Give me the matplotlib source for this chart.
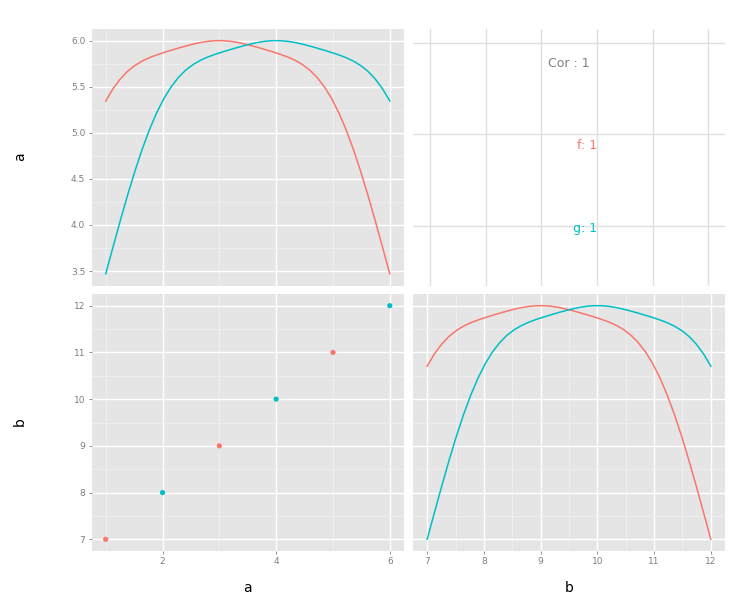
import numpy as np
import matplotlib
matplotlib.use('Agg')
import matplotlib.pyplot as plt
import seaborn as sns
from matplotlib.ticker import MultipleLocator, FormatStrFormatter

# raw data (pairs plot of a vs b, coloured by group)
a_vals = [1, 2, 3, 4, 5, 6]
b_vals = [7, 8, 9, 10, 11, 12]
groups = ['f', 'g', 'f', 'g', 'f', 'g']
group_names = ['f', 'g']
group_colors = {'f': '#F8766D', 'g': '#00BFC4'}

# diagonal density curves are rescaled into these value ranges
a_diag_range = (3.47, 6.0)
b_diag_range = (7.0, 12.0)
b_ticks = [7, 8, 9, 10, 11, 12]

# correlation panel text
cor_text = 'Cor : 1'
group_cor = {'f': 'f: 1', 'g': 'g: 1'}

bw_factor = 0.539  # R bw.nrd0 relative to the sd for these groups

W, H = 754, 606
fig = plt.figure(figsize=(W / 100, H / 100), dpi=100)


def px_axes(l, t, r, b):
    return fig.add_axes([l / W, 1 - b / H, (r - l) / W, (b - t) / H])


ax_tl = px_axes(91.5, 29, 404, 285.5)
ax_tr = px_axes(413, 29, 725, 285.5)
ax_bl = px_axes(91.5, 294, 404, 551)
ax_br = px_axes(413, 294, 725, 551)

bg = '#E5E5E5'
tick_col = '#7F7F7F'


def gg_style(ax, xmajor, ymajor):
    ax.set_facecolor(bg)
    for s in ax.spines.values():
        s.set_visible(False)
    ax.xaxis.set_major_locator(MultipleLocator(xmajor))
    ax.xaxis.set_minor_locator(MultipleLocator(xmajor / 2))
    ax.yaxis.set_major_locator(MultipleLocator(ymajor))
    ax.yaxis.set_minor_locator(MultipleLocator(ymajor / 2))
    ax.grid(which='major', color='white', lw=1.0)
    ax.grid(which='minor', color='#F2F2F2', lw=0.5)
    ax.set_axisbelow(True)
    ax.tick_params(which='major', colors=tick_col, labelsize=6.5, length=2.5, width=0.6, pad=2)
    ax.tick_params(which='minor', length=0)


def expand(lo, hi):
    d = (hi - lo) * 0.05
    return lo - d, hi + d


def diag_density(ax, vals, rng, lims):
    tw = ax.twinx()
    for g in group_names:
        xs = [v for v, gg in zip(vals, groups) if gg == g]
        sns.kdeplot(x=xs, ax=tw, bw_method=bw_factor, cut=3, clip=(min(vals), max(vals)),
                    color=group_colors[g], linewidth=1.1, gridsize=40)
    ys = np.concatenate([ln.get_ydata() for ln in tw.lines])
    dmin, dmax = ys.min(), ys.max()
    lo, hi = lims
    t0 = (rng[0] - lo) / (hi - lo)
    t1 = (rng[1] - lo) / (hi - lo)
    span = (dmax - dmin) / (t1 - t0)
    tw.set_ylim(dmin - t0 * span, dmin - t0 * span + span)
    tw.set_yticks([])
    tw.set_ylabel('')
    tw.set_xlabel('')
    for s in tw.spines.values():
        s.set_visible(False)
    tw.patch.set_visible(False)
    return tw


xa = expand(min(a_vals), max(a_vals))
xb = expand(min(b_vals), max(b_vals))

# top-left: density of a
ya_diag = expand(*a_diag_range)
gg_style(ax_tl, 2, 0.5)
ax_tl.set_xlim(*xa)
ax_tl.set_ylim(*ya_diag)
ax_tl.yaxis.set_major_formatter(FormatStrFormatter('%.1f'))
tw = diag_density(ax_tl, a_vals, a_diag_range, ya_diag)
tw.set_xlim(*xa)
ax_tl.tick_params(axis='x', which='both', bottom=False, labelbottom=False)

# bottom-right: density of b
yb_diag = expand(*b_diag_range)
gg_style(ax_br, 1, 1)
ax_br.set_xlim(*xb)
ax_br.set_ylim(*yb_diag)
tw = diag_density(ax_br, b_vals, b_diag_range, yb_diag)
tw.set_xlim(*xb)
ax_br.tick_params(axis='y', which='both', left=False, labelleft=False, right=False)

# bottom-left: scatter b vs a
gg_style(ax_bl, 2, 1)
for g in group_names:
    xs = [v for v, gg in zip(a_vals, groups) if gg == g]
    ys = [v for v, gg in zip(b_vals, groups) if gg == g]
    ax_bl.scatter(xs, ys, s=14, color=group_colors[g], edgecolors='none', zorder=3)
ax_bl.set_xlim(*xa)
ax_bl.set_ylim(*xb)

# top-right: correlation text
ax_tr.set_facecolor('white')
for s in ax_tr.spines.values():
    s.set_visible(False)
ax_tr.set_xlim(6.695, 12.30)
ax_tr.set_ylim(3.344, 6.149)
ax_tr.set_xticks(b_ticks)
ax_tr.set_yticks([4, 5, 6])
ax_tr.grid(color='#E0E0E0', lw=1.0)
ax_tr.tick_params(length=0, labelbottom=False, labelleft=False)
ax_tr.text(9.5, 5.77, cor_text, ha='center', va='center', fontsize=9, color='#7F7F7F')
ax_tr.text(10.0, 4.87, group_cor['f'], ha='right', va='center', fontsize=9, color=group_colors['f'])
ax_tr.text(10.0, 3.97, group_cor['g'], ha='right', va='center', fontsize=9, color=group_colors['g'])

# outer axis titles
fig.text(20 / W, 1 - 157 / H, 'a', rotation=90, ha='center', va='center', fontsize=10)
fig.text(20 / W, 1 - 422 / H, 'b', rotation=90, ha='center', va='center', fontsize=10)
fig.text(247 / W, 1 - 588 / H, 'a', ha='center', va='center', fontsize=10)
fig.text(569 / W, 1 - 588 / H, 'b', ha='center', va='center', fontsize=10)

fig.savefig('out.png', dpi=100)
